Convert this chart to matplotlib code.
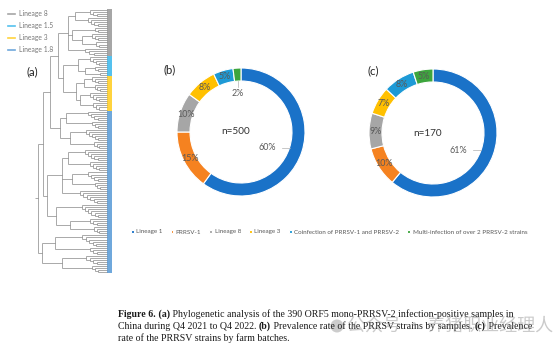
import math
import matplotlib
matplotlib.use("Agg")
import matplotlib.pyplot as plt
from matplotlib.collections import LineCollection
from matplotlib.lines import Line2D
from matplotlib.patches import Circle

# ---------------- data ----------------
categories = ["Lineage 1", "PRRSV-1", "Lineage 8", "Lineage 3",
              "Coinfection of PRRSV-1 and PRRSV-2",
              "Multi-infection of over 2 PRRSV-2 strains"]
samples_pct = [60, 15, 10, 8, 5, 2]      # (b) n=500
batches_pct = [61, 10, 9, 7, 8, 5]       # (c) n=170
cat_colors = ["#1A72C8", "#F58220", "#A6A6A6", "#FFC000", "#1E9AD6", "#3DA53D"]

tree_lineages = ["Lineage 8", "Lineage 1.5", "Lineage 3", "Lineage 1.8"]
tree_codes = ["G", "L", "Y", "B"]
tree_colors = ["#A6A6A6", "#55C1EE", "#FFD33D", "#6FA8DC"]

# phylogeny: (node_x, children...) ; "G4@90" = ladder of 4 leaves rooted at x=90
TREE = (38,
        (43,
         (50,
          (58,
           (68,
            (75, "G4@90", "G5@88"),
            (72, "G3@95", (82, "G4@92", "G3@96")),
            "G4@85"),
           (63,
            (78, "L5@90", (85, "L3@95", "L2@100")),
            (76, (84, "Y4@92", "Y4@95"), (80, "Y5@90", "Y4@93")))),
          (60, (66, "B5@88", "B4@92"), (70, "B6@86", "B4@94"))),
         (47,
          (62, (68, "B6@85", "B5@90"), (72, "B5@88", "B4@95"), "B7@80"),
          (56, "B7@82", (70, "B4@90", "B4@94")))),
        (42, (55, "B6@82", "B4@90"), (62, "B5@86", "B4@92")))

caption_lines = [
    [("Figure 6.", True), (" (a)", True),
     (" Phylogenetic analysis of the 390 ORF5 mono-PRRSV-2 infection-positive samples in", False)],
    [("China during Q4 2021 to Q4 2022. ", False), ("(b)", True),
     (" Prevalence rate of the PRRSV strains by samples. ", False), ("(c)", True),
     (" Prevalence", False)],
    [("rate of the PRRSV strains by farm batches.", False)],
]

# ---------------- figure ----------------
W, H = 558, 353
fig = plt.figure(figsize=(W / 100, H / 100), dpi=100)
ax = fig.add_axes([0, 0, 1, 1])
SANS = ["Lato", "DejaVu Sans"]


def Y(y_top):
    return H - y_top


# ---- tree ----
TIP = 107.0


def comb(code, n, x0):
    if n == 1:
        return code
    step = (TIP - x0) / (n + 1)
    inner = (x0 + (n - 2) * step, code, code)
    for k in range(n - 3, -1, -1):
        inner = (x0 + k * step, code, inner)
    return inner


def expand(node):
    if isinstance(node, str):
        if "@" in node:
            code = node[0]
            n, x0 = node[1:].split("@")
            return expand(comb(code, int(n), float(x0)))
        return node
    return (node[0],) + tuple(expand(c) for c in node[1:])


def count(node):
    if isinstance(node, str):
        return 1
    return sum(count(c) for c in node[1:])


tree = expand(TREE)
N = count(tree)
top, bottom = 10.0, 272.0
spacing = (bottom - top) / (N - 1)
segs = []
leaves = []


def layout(node):
    if isinstance(node, str):
        y = Y(top + len(leaves) * spacing)
        leaves.append((y, node))
        return TIP, y
    x = node[0]
    kids = [layout(c) for c in node[1:]]
    ys = [k[1] for k in kids]
    segs.append([(x, min(ys)), (x, max(ys))])
    for kx, ky in kids:
        segs.append([(x, ky), (kx, ky)])
    return x, (ys[0] + ys[-1]) / 2


rx, ry = layout(tree)
segs.append([(rx - 3, ry), (rx, ry)])
ax.add_collection(LineCollection(segs, colors="#7a7a7a", linewidths=0.45))
code_color = dict(zip(tree_codes, tree_colors))
ax.barh([l[0] for l in leaves], [4.5] * len(leaves), left=TIP, height=spacing,
        color=[code_color[l[1]] for l in leaves], linewidth=0)

ax.text(32, Y(72), "(a)", fontsize=8.2, family=SANS, color="#222222",
        ha="center", va="center")

tree_handles = [Line2D([], [], color=c, lw=1.2) for c in tree_colors]
leg_tree = ax.legend(tree_handles, tree_lineages, loc="upper left",
                     bbox_to_anchor=(8 / W, 1 - 10 / H), frameon=False,
                     prop={"family": SANS, "size": 4.9}, labelcolor="#777777",
                     handlelength=1.1, handletextpad=0.5, labelspacing=0.75,
                     borderaxespad=0, borderpad=0)
ax.add_artist(leg_tree)

# ---- donuts ----
R, RW = 64, 13


def donut(values, cx, cy_top, ntext, inside):
    cy = Y(cy_top)
    wedges, _ = ax.pie(values, colors=cat_colors, startangle=90, counterclock=False,
                       radius=R, center=(cx, cy),
                       wedgeprops=dict(width=RW, edgecolor="white", linewidth=0.8))
    total = sum(values)
    cum = 0
    for i, v in enumerate(values):
        mid = 90 - (cum + v / 2) / total * 360
        cum += v
        a = math.radians(mid)
        txt = f"{v}%"
        if i in inside:
            dx, dy = inside[i]
            r_in = R - RW
            px, py = cx + r_in * math.cos(a), cy + r_in * math.sin(a)
            tx, ty = px + dx, py + dy
            ax.plot([px, tx + (6 if dx < 0 else 0)], [py, ty + (2 if dy < 0 else 0)],
                    color="#b0b0b0", lw=0.5)
            ax.text(tx, ty, txt, fontsize=6.4, family=SANS, color="#595959",
                    ha="right" if dx < 0 else "center",
                    va="center" if dx < 0 else "top")
        else:
            rm = R - RW / 2
            ax.text(cx + rm * math.cos(a), cy + rm * math.sin(a), txt, fontsize=6.4,
                    family=SANS, color="#595959", ha="center", va="center")
    ax.text(cx - 5, cy, ntext, fontsize=7.2, family=SANS, color="#333333",
            ha="center", va="center")
    return wedges


wedges = donut(samples_pct, 241, 132, "n=500", {0: (-14, 0), 5: (0, -8)})
donut(batches_pct, 433, 133, "n=170", {0: (-14, 0)})
ax.text(170, Y(70), "(b)", fontsize=8.2, family=SANS, color="#222222",
        ha="center", va="center")
ax.text(373, Y(71), "(c)", fontsize=8.2, family=SANS, color="#222222",
        ha="center", va="center")

ax.legend(wedges, categories, loc="center", bbox_to_anchor=(329 / W, 1 - 232 / H),
          ncol=6, frameon=False, prop={"family": SANS, "size": 4.5},
          labelcolor="#595959", handlelength=0.45, handleheight=0.45,
          handletextpad=0.4, columnspacing=1.3, borderaxespad=0, borderpad=0)

# ---- caption ----
SERIF = ["Liberation Serif", "DejaVu Serif"]
for li, parts in enumerate(caption_lines):
    yb = Y(319 + li * 12)
    prev = None
    for txt, bold in parts:
        kw = dict(fontsize=7.08, family=SERIF, color="#1a1a1a",
                  fontweight="bold" if bold else "normal")
        if prev is None:
            prev = ax.text(118, yb, txt, ha="left", va="bottom", **kw)
        else:
            prev = ax.annotate(txt, xy=(1, 0), xycoords=prev, ha="left",
                               va="bottom", **kw)

# ---- watermark ----
ax.add_patch(Circle((337, Y(326)), 6.5, color="#9a9a9a", alpha=0.5, lw=0))
ax.text(347, Y(326), "公众号 · 养猪职业经理人", fontsize=13,
        family=["Noto Sans CJK SC", "DejaVu Sans"], color="#8c8c8c", alpha=0.45,
        ha="left", va="center")

ax.set_xlim(0, W)
ax.set_ylim(0, H)
ax.set_aspect("auto")
ax.axis("off")
fig.savefig("out.png", dpi=100, facecolor="white")
